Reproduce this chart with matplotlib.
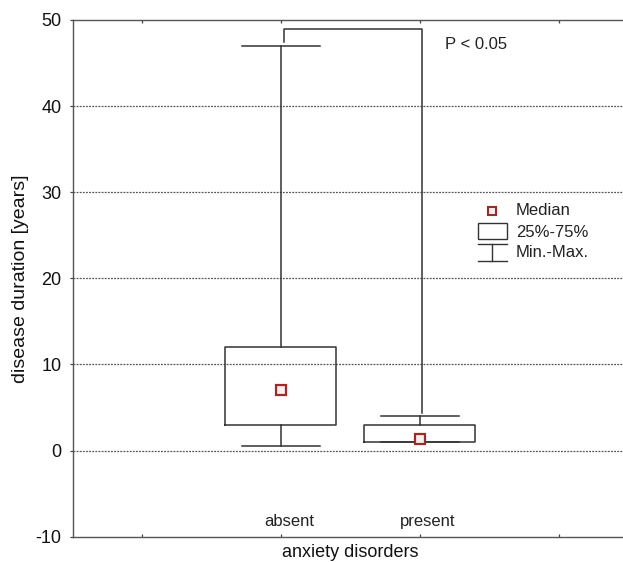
import matplotlib
matplotlib.use('Agg')
import matplotlib.pyplot as plt
from matplotlib.patches import Rectangle

plt.rcParams['font.family'] = ['Liberation Sans', 'DejaVu Sans']
plt.rcParams['axes.unicode_minus'] = False

# data
categories = ['absent', 'present']
positions = [1.5, 2.5]
medians = [7.0, 1.4]
q1 = [3.0, 1.0]
q3 = [12.0, 3.0]
mins = [0.5, 1.0]
maxs = [47.0, 4.0]
p_text = 'P < 0.05'
legend_labels = ['Median', '25%-75%', 'Min.-Max.']

line_col = '#333333'
med_edge = '#9e2a2a'

fig = plt.figure(figsize=(6.23, 5.62), dpi=100)
# axes run slightly past the right border, as in the original
ax = fig.add_axes([72.7 / 623, 25.3 / 562, 555.2 / 623, 516.7 / 562])

stats = []
for i, name in enumerate(categories):
    stats.append({'label': name, 'med': medians[i], 'q1': q1[i], 'q3': q3[i],
                  'whislo': mins[i], 'whishi': maxs[i], 'fliers': []})

ax.bxp(stats, positions=positions, widths=0.8, capwidths=0.56,
       showfliers=False, patch_artist=False,
       boxprops=dict(color=line_col, lw=1.1),
       whiskerprops=dict(color=line_col, lw=1.1),
       capprops=dict(color=line_col, lw=1.1),
       medianprops=dict(linestyle='none'))

ax.plot(positions, medians, linestyle='none', marker='s', markersize=6.5,
        markerfacecolor='#fbeeee', markeredgecolor=med_edge, markeredgewidth=1.6,
        zorder=5)

# significance bracket
top = 49
ax.plot([positions[0] + 0.02, positions[0] + 0.02, positions[1] + 0.02, positions[1] + 0.02],
        [maxs[0] + 0.4, top, top, maxs[1] + 0.4], color=line_col, lw=1.1)
ax.text(2.68, 47.2, p_text, fontsize=12, ha='left', va='center', color='#222222')

# category labels sit inside the plot, above the bottom axis
for pos, name in zip(positions, categories):
    ax.text(pos + 0.06, -8.25, name, fontsize=12, ha='center', va='center', color='#222222')

# hand-drawn legend
lx = 3.02
ax.plot([lx], [27.85], linestyle='none', marker='s', markersize=6.0,
        markerfacecolor='#fbeeee', markeredgecolor=med_edge, markeredgewidth=1.5)
ax.add_patch(Rectangle((2.92, 24.56), 0.207, 1.86, fill=False, edgecolor=line_col, lw=1.0))
ax.plot([2.92, 3.127], [23.98, 23.98], color=line_col, lw=1.0)
ax.plot([2.92, 3.127], [22.04, 22.04], color=line_col, lw=1.0)
ax.plot([lx, lx], [22.04, 23.98], color=line_col, lw=1.0)
for yy, lab in zip([27.85, 25.3, 22.95], legend_labels):
    ax.text(3.194, yy, lab, fontsize=12, ha='left', va='center', color='#222222')

ax.set_xlim(0, 4)
ax.set_ylim(-10, 50)
ax.set_yticks([-10, 0, 10, 20, 30, 40, 50])
ax.set_yticklabels(['-10', '0', '10', '20', '30', '40', '50'])
ax.set_xticks([0.5, 1.5, 2.5, 3.5])
ax.set_xticklabels([])

for y in [0, 10, 20, 30, 40]:
    ax.axhline(y, color='#555555', lw=0.9, linestyle=(0, (1.5, 1.0)), zorder=0)

ax.tick_params(axis='y', direction='out', length=2.5, width=0.9, pad=5.5,
               labelsize=13, colors='#444444', labelcolor='#111111')
ax.tick_params(axis='x', direction='in', length=2.5, width=0.9, top=True,
               colors='#444444')
for s in ax.spines.values():
    s.set_color('#555555')
    s.set_linewidth(1.0)
ax.spines['right'].set_visible(False)

ax.set_ylabel('disease duration [years]', fontsize=14, color='#111111', labelpad=5)
ax.set_xlabel('anxiety disorders', fontsize=13, color='#111111', labelpad=2)

fig.savefig('out.png', dpi=100)
